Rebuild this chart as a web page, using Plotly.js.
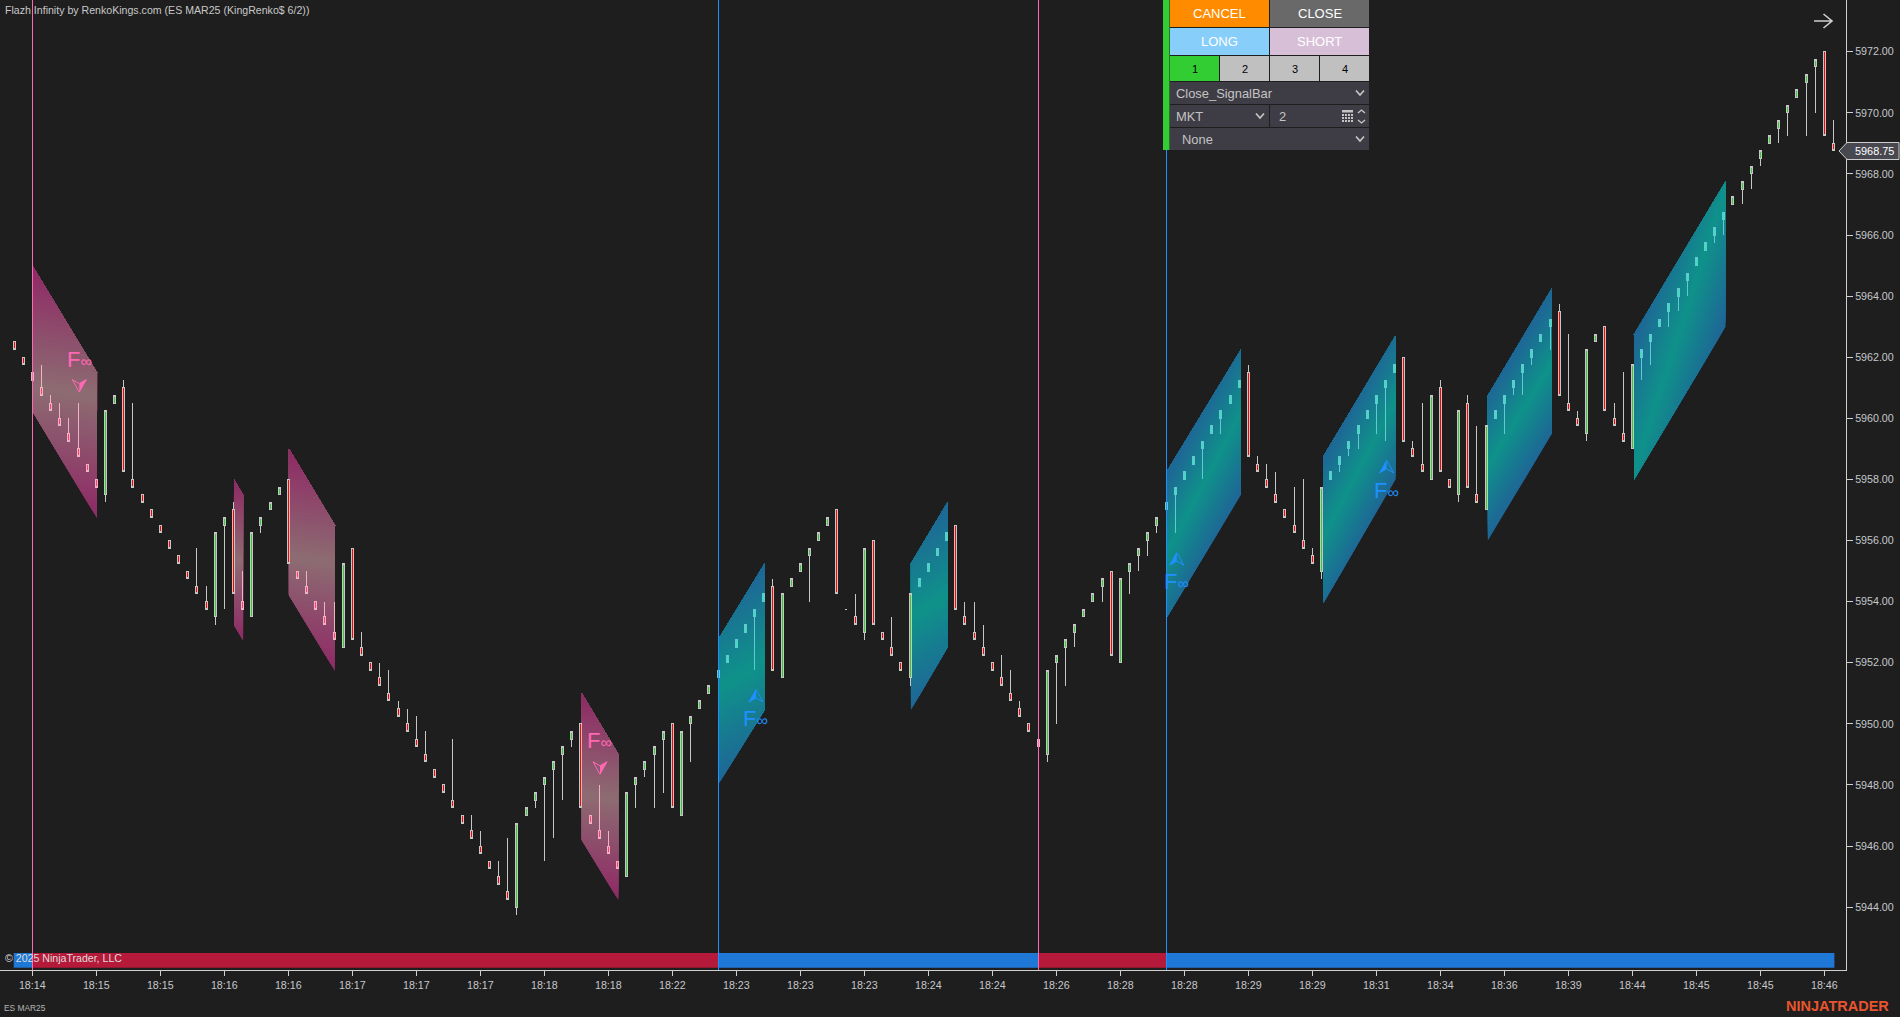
<!DOCTYPE html>
<html><head><meta charset="utf-8">
<script src="https://cdn.plot.ly/plotly-3.0.1.min.js"></script>
<style>html,body{margin:0;padding:0;background:#1e1e1e;overflow:hidden}#c{width:1900px;height:1017px}.boxlayer path{shape-rendering:crispEdges !important}</style>
</head><body><div id="c"></div>
<script>
const barOpen=[5962.5,5962,5961.5,5961,5960.5,5960,5959.5,5959,5958.5,5958,
5957.5,5960.5,5961,5958,5957.5,5957,5956.5,5956,5955.5,5955,
5954.5,5954,5953.5,5956.5,5957,5954,5953.5,5956.5,5957,5957.5,
5958,5955,5954.5,5954,5953.5,5953,5952.5,5955.75,5952.5,5952,
5951.5,5951,5950.5,5950,5949.5,5949,5948.5,5948,5947.5,5947,
5946.5,5946,5945.5,5945,5944.5,5944,5947,5947.5,5948,5948.5,
5949,5949.5,5950,5947,5946.5,5946,5945.5,5945,5948,5948.5,
5949,5949.5,5950,5947,5950,5950.5,5951,5951.5,5952,5952.5,
5953,5953.5,5954,5954.5,5951.5,5954.5,5955,5955.5,5956,5956.5,
5957,5953.75,5953.5,5953,5956,5953,5952.5,5952,5951.5,5954.5,
5955,5955.5,5956,5956.5,5953.5,5953,5952.5,5952,5951.5,5951,
5950.5,5950,5949.5,5949,5952,5952.5,5953,5953.5,5954,5954.5,
5955,5952,5955,5955.5,5956,5956.5,5957,5957.5,5958,5958.5,
5959,5959.5,5960,5960.5,5961,5961.5,5958.5,5958,5957.5,5957,
5956.5,5956,5955.5,5955,5958,5958.5,5959,5959.5,5960,5960.5,
5961,5961.5,5962,5959,5958.5,5958,5961,5958,5957.5,5960.5,
5957.5,5957,5960,5960.5,5961,5961.5,5962,5962.5,5963,5963.5,
5960.5,5960,5959.5,5962.5,5963,5960,5959.5,5959,5962,5962.5,
5963,5963.5,5964,5964.5,5965,5965.5,5966,5966.5,5967,5967.5,
5968,5968.5,5969,5969.5,5970,5970.5,5971,5971.5,5972,5969];
const barHigh=[5962.5,5962,5961.5,5961.75,5960.75,5960.5,5960,5960.5,5958.5,5958,
5960.25,5960.75,5961.25,5960.5,5957.5,5957,5956.5,5956,5955.5,5955,
5955.75,5954.5,5956.25,5956.75,5957.25,5955,5956.25,5956.75,5957.25,5957.75,
5958,5955,5955,5954,5954,5954,5955.25,5955.75,5953,5952,
5952,5951.75,5950.75,5950.5,5950.25,5949.75,5948.5,5948,5949.5,5947,
5947,5946.5,5945.5,5945.5,5946.25,5946.75,5947.25,5947.75,5948.25,5948.75,
5949.25,5949.75,5950,5947,5948,5946.5,5945.5,5947.75,5948.25,5948.75,
5949.25,5949.75,5950,5949.75,5950.25,5950.75,5951.25,5951.75,5952.25,5952.75,
5953.25,5953.75,5954.25,5954.75,5954.25,5954.75,5955.25,5955.75,5956.25,5956.75,
5957,5953.75,5954.25,5955.75,5956,5953,5953.5,5952,5954.25,5954.75,
5955.25,5955.75,5956.25,5956.5,5954,5954,5953.25,5952,5952.25,5951.75,
5950.75,5950,5949.5,5951.75,5952.25,5952.75,5953.25,5953.75,5954.25,5954.75,
5955,5954.75,5955.25,5955.75,5956.25,5956.75,5957.25,5957.75,5958.25,5958.75,
5959.25,5959.75,5960.25,5960.75,5961.25,5961.75,5958.75,5958.5,5958.25,5957,
5957.75,5958,5955.75,5957.75,5958.25,5958.75,5959.25,5959.75,5960.25,5960.75,
5961.25,5961.75,5962,5959.25,5960.5,5960.75,5961.25,5958,5960.25,5960.75,
5959.75,5959.75,5960.25,5960.75,5961.25,5961.75,5962.25,5962.75,5963.25,5963.75,
5962.75,5960.25,5962.25,5962.75,5963,5960.5,5961.5,5961.75,5962.25,5962.75,
5963.25,5963.75,5964.25,5964.75,5965.25,5965.75,5966.25,5966.75,5967.25,5967.75,
5968.25,5968.75,5969.25,5969.75,5970.25,5970.75,5971.25,5971.75,5972,5969.75];
const barLow=[5962.25,5961.75,5961.25,5960.75,5960.25,5959.75,5959.25,5958.75,5958.25,5957.75,
5957.25,5960.5,5958.25,5957.75,5957.25,5956.75,5956.25,5955.75,5955.25,5954.75,
5954.25,5953.75,5953.25,5953.75,5954.25,5953.75,5953.5,5956.25,5957,5957.5,
5955.25,5954.75,5954.25,5953.75,5953.25,5952.75,5952.5,5952.75,5952.25,5951.75,
5951.25,5950.75,5950.25,5949.75,5949.25,5948.75,5948.25,5947.75,5947.25,5946.75,
5946.25,5945.75,5945.25,5944.75,5944.25,5943.75,5947,5947.25,5945.5,5946.25,
5947.5,5949.25,5947.25,5946.75,5946.25,5945.75,5945.25,5945,5947.25,5948.25,
5947.25,5947.75,5947.25,5947,5948.75,5950.5,5951,5951.5,5952,5952.5,
5953,5951.75,5954,5951.75,5951.5,5954.5,5955,5954,5956,5956.5,
5954.25,5953.75,5953.25,5952.75,5953.25,5952.75,5952.25,5951.75,5951.25,5954.5,
5955,5955.5,5956,5953.75,5953.25,5952.75,5952.25,5951.75,5951.25,5950.75,
5950.25,5949.75,5949.25,5948.75,5950,5951.25,5952.5,5953.5,5954,5954,
5952.25,5952,5954.25,5955,5955.5,5956.25,5957,5956.25,5958,5958.5,
5958,5959.5,5959.5,5960.5,5961,5958.75,5958.25,5957.75,5957.25,5956.75,
5956.25,5955.75,5955.25,5954.75,5958,5958.25,5958.75,5959,5960,5959.5,
5959.25,5961.5,5959.25,5958.75,5958.25,5958,5958.25,5957.75,5957.25,5957.75,
5957.25,5957,5960,5959.5,5960.75,5960.75,5961.75,5962.5,5962.25,5960.75,
5960.25,5959.75,5959.25,5962.5,5960.25,5959.75,5959.25,5959,5961.25,5961.75,
5963,5963,5963.5,5964,5965,5965.5,5965.75,5966,5967,5967,
5967.5,5968.25,5969,5969,5969.25,5970.5,5969.25,5970,5969.25,5968.75];
const barClose=[5962.25,5961.75,5961.25,5960.75,5960.25,5959.75,5959.25,5958.75,5958.25,5957.75,
5960.25,5960.75,5958.25,5957.75,5957.25,5956.75,5956.25,5955.75,5955.25,5954.75,
5954.25,5953.75,5956.25,5956.75,5954.25,5953.75,5956.25,5956.75,5957.25,5957.75,
5955.25,5954.75,5954.25,5953.75,5953.25,5952.75,5955.25,5952.75,5952.25,5951.75,
5951.25,5950.75,5950.25,5949.75,5949.25,5948.75,5948.25,5947.75,5947.25,5946.75,
5946.25,5945.75,5945.25,5944.75,5944.25,5946.75,5947.25,5947.75,5948.25,5948.75,
5949.25,5949.75,5947.25,5946.75,5946.25,5945.75,5945.25,5947.75,5948.25,5948.75,
5949.25,5949.75,5947.25,5949.75,5950.25,5950.75,5951.25,5951.75,5952.25,5952.75,
5953.25,5953.75,5954.25,5951.75,5954.25,5954.75,5955.25,5955.75,5956.25,5956.75,
5954.25,5953.75,5953.25,5955.75,5953.25,5952.75,5952.25,5951.75,5954.25,5954.75,
5955.25,5955.75,5956.25,5953.75,5953.25,5952.75,5952.25,5951.75,5951.25,5950.75,
5950.25,5949.75,5949.25,5951.75,5952.25,5952.75,5953.25,5953.75,5954.25,5954.75,
5952.25,5954.75,5955.25,5955.75,5956.25,5956.75,5957.25,5957.75,5958.25,5958.75,
5959.25,5959.75,5960.25,5960.75,5961.25,5958.75,5958.25,5957.75,5957.25,5956.75,
5956.25,5955.75,5955.25,5957.75,5958.25,5958.75,5959.25,5959.75,5960.25,5960.75,
5961.25,5961.75,5959.25,5958.75,5958.25,5960.75,5958.25,5957.75,5960.25,5957.75,
5957.25,5959.75,5960.25,5960.75,5961.25,5961.75,5962.25,5962.75,5963.25,5960.75,
5960.25,5959.75,5962.25,5962.75,5960.25,5959.75,5959.25,5961.75,5962.25,5962.75,
5963.25,5963.75,5964.25,5964.75,5965.25,5965.75,5966.25,5966.75,5967.25,5967.75,
5968.25,5968.75,5969.25,5969.75,5970.25,5970.75,5971.25,5971.75,5969.25,5968.75];

const xTickLabels=['18:14','18:15','18:15','18:16','18:16','18:17','18:17','18:17','18:18','18:18','18:22','18:23','18:23','18:23','18:24','18:24','18:26','18:28','18:28','18:29','18:29','18:31','18:34','18:36','18:39','18:44','18:45','18:45','18:46'];
const yTicks=[5972,5970,5968,5966,5964,5962,5960,5958,5956,5954,5952,5950,5948,5946,5944];

// slanted signal zones: bar index span and prices of the four corners
const zoneKind =['pink','pink','pink','pink','teal','teal','teal','teal','teal','teal'];
const zoneStart=[2,24.06,30.07,62.1,77,98.1,126.07,143.2,161.2,177.2];
const zoneEnd  =[9.08,25.05,35.1,66.1,82.1,102.1,134.2,151.1,168.2,187.2];
const zoneTopL =[5965,5958,5959,5951,5952.75,5955.25,5958.25,5958.75,5960.75,5962.75];
const zoneBotL =[5960.24,5953.23,5954.22,5946.2,5948,5950.45,5953.47,5953.95,5956,5958];
const zoneTopR =[5961.5,5957.5,5956.5,5949,5955.25,5957.25,5962.25,5962.7,5964.25,5967.75];
const zoneBotR =[5956.73,5952.72,5951.73,5944.23,5950.45,5952.5,5957.5,5958,5959.5,5963];
const zoneAngle=[-8,-8,-8,-8,30,30,62,62,58,72];

const signalBars=[2,77,112,126];
const signalKinds=['pink','blue','pink','blue'];
const trendStart=[-0.03,2,77,112,126];
const trendEnd=[2,77,112,126,199.1];
const trendKinds=['blue','red','blue','red','blue'];

const signalKindAt=['pink','pink','blue','blue','blue'];
const arrowBar=[7.14,64.09,81.15,127.17,150.13];
const arrowPrice=[5961.07,5948.56,5950.91,5955.39,5958.41];
const labelPrice=[5961.91,5949.44,5950.16,5954.67,5957.65];

const lastPrice=5968.75;

const barIndex=barOpen.map((_,i)=>i);
const W=1846,H=970,pxI=9.143,pxP=30.55;
const xMin=2-32.3/pxI, xMax=xMin+W/pxI, yMax=5972+51.7/pxP, yMin=yMax-H/pxP;
const col={pink:'#ff69b4',blue:'#1e90ff'};

// group bars by the tint they take from the overlay above them
function groupOf(i){
  const s=signalBars.indexOf(i);
  if(s>=0) return signalKinds[s]==='pink'?'pink':'teal';
  for(let z=0;z<zoneStart.length;z++) if(i>=zoneStart[z]+0.5&&i<=zoneEnd[z]+0.3) return zoneKind[z];
  return 'plain';
}
function candles(g,upFill,downFill,line){
  const ids=barIndex.filter(i=>groupOf(i)===g);
  const pick=a=>ids.map(i=>a[i]);
  return {type:'candlestick',x:ids,open:pick(barOpen),high:pick(barHigh),low:pick(barLow),close:pick(barClose),
    whiskerwidth:0,hoverinfo:'none',showlegend:false,
    increasing:{fillcolor:upFill,line:{color:line,width:1}},
    decreasing:{fillcolor:downFill,line:{color:line,width:1}}};
}
const traces=[candles('plain','#32cd32','#ff0000','#c6c6c6'),
 candles('teal','#32e8b0','#ff4040','#62c8d2'),
 candles('pink','#32cd32','#ff3f6e','#eeb4c4')];

// gradient overlays, painted far to near so no seams appear between colour steps
function mix(a,b,t){return 'rgb('+a.map((v,k)=>Math.round(v+(b[k]-v)*t)).join(',')+')';}
const edge={pink:[142,46,102],teal:[30,104,150]}, mid={pink:[141,108,114],teal:[15,146,138]};
function clip(poly,f){
  const out=[];
  for(let k=0;k<poly.length;k++){
    const a=poly[k],b=poly[(k+1)%poly.length],fa=f(a),fb=f(b);
    if(fa>=0) out.push(a);
    if((fa>=0)!==(fb>=0)){const t=fa/(fa-fb);out.push([a[0]+(b[0]-a[0])*t,a[1]+(b[1]-a[1])*t]);}
  }
  return out;
}
const shapes=[];
zoneKind.forEach((kind,z)=>{
  const poly=[[zoneStart[z],zoneTopL[z]],[zoneEnd[z],zoneTopR[z]],[zoneEnd[z],zoneBotR[z]],[zoneStart[z],zoneBotL[z]]];
  const cx=(zoneStart[z]+zoneEnd[z])/2, cy=(zoneTopL[z]+zoneBotL[z]+zoneTopR[z]+zoneBotR[z])/4;
  const th=zoneAngle[z]*Math.PI/180;
  const s=p=>-Math.sin(th)*(p[0]-cx)*pxI+Math.cos(th)*(p[1]-cy)*pxP;
  const smax=Math.max(...poly.map(p=>Math.abs(s(p))));
  const N=60;
  for(let k=0;k<N;k++){
    const lo=-smax+2*smax*k/N, c=lo+smax/N;
    const part=k===0?poly:clip(poly,p=>s(p)-lo);
    if(part.length<3) continue;
    const t=1-Math.min(1,Math.abs(c)/(smax*0.92));
    shapes.push({type:'path',xref:'x',yref:'y',layer:'below',line:{width:0},fillcolor:mix(edge[kind],mid[kind],t),
      path:'M'+part.map(p=>p[0]+','+p[1]).join('L')+'Z'});
  }
});
// signal lines, placed on whole pixels
const snapX=b=>xMin+(Math.floor((b-xMin)*pxI)+0.5)/pxI;
signalBars.forEach((b,k)=>shapes.push({type:'line',xref:'x',yref:'paper',x0:snapX(b),x1:snapX(b),y0:0,y1:1,layer:'above',line:{color:col[signalKinds[k]],width:1}}));
// trend strip
const px=x=>x/W, py=y=>1-y/H;
trendStart.forEach((a,k)=>shapes.push({type:'rect',xref:'x',yref:'paper',x0:a,x1:trendEnd[k],y0:py(967.7),y1:py(953),layer:'below',line:{width:0},fillcolor:trendKinds[k]==='red'?'#b51a3a':'#1f78d6'}));
// signal arrows
arrowBar.forEach((b,k)=>{
  const c=col[signalKindAt[k]], up=signalKindAt[k]==='blue', d=up?1:-1, sideFill=up?-1:1;
  const common={type:'path',xref:'x',yref:'y',xsizemode:'pixel',ysizemode:'pixel',xanchor:b,yanchor:arrowPrice[k],layer:'above'};
  shapes.push(Object.assign({},common,{line:{color:c,width:1},path:`M0,${6.5*d}L-7,${-6*d}L0,${-2*d}L7,${-6*d}Z`}));
  shapes.push(Object.assign({},common,{line:{width:0},fillcolor:c,path:`M0,${6.5*d}L${7*sideFill},${-6*d}L0,${-2*d}Z`}));
});
// last price tag
shapes.push({type:'path',xref:'paper',yref:'y',xsizemode:'pixel',ysizemode:'pixel',xanchor:1,yanchor:lastPrice,layer:'above',
  fillcolor:'#484850',line:{color:'#cfcfcf',width:1},path:'M-7,0L1,8.5L53,8.5L53,-8.5L1,-8.5Z'});
// exit arrow, top right
shapes.push({type:'path',xref:'paper',yref:'paper',layer:'above',line:{color:'#d0d0d0',width:1.6},
  path:`M${px(1814)},${py(21)}L${px(1832)},${py(21)}M${px(1823.5)},${py(14)}L${px(1832)},${py(21)}L${px(1823.5)},${py(28)}`});

const annotations=[];
function label(text,x,y,size,color,anchor,extra){
  annotations.push(Object.assign({text,x:px(x),y:py(y),xref:'paper',yref:'paper',showarrow:false,xanchor:anchor||'left',yanchor:'middle',
    font:{family:'"Liberation Sans",Arial,sans-serif',size,color},borderpad:0,borderwidth:0},extra||{}));
}
label('Flazh Infinity by RenkoKings.com (ES MAR25 (KingRenko$ 6/2))',5,10,10.6,'#c8c8c8');
label('© 2025 NinjaTrader, LLC',5,957.5,10.6,'#dcdcdc');
label('ES MAR25',4,1007.5,8.4,'#b4b4b4');
label('<b>NINJATRADER</b>',1786,1006,14.5,'#e8542e');
label('5968.75',1855,150.8,10.9,'#ffffff');
// signal labels
arrowBar.forEach((b,k)=>annotations.push({text:'F<span style="font-size:16px">∞</span>',x:b,y:labelPrice[k],xref:'x',yref:'y',showarrow:false,
  xanchor:'center',yanchor:'middle',font:{family:'"Liberation Sans",Arial,sans-serif',size:22,color:col[signalKindAt[k]]}}));

// order panel
function box(x0,y0,x1,y1,fill){shapes.push({type:'rect',xref:'paper',yref:'paper',x0:px(x0),x1:px(x1),y0:py(y1),y1:py(y0),layer:'above',fillcolor:fill,line:{width:0}});}
function stroke(d,color,w){shapes.push({type:'path',xref:'paper',yref:'paper',layer:'above',line:{color,width:w||1.4},
  path:d.map((p,i)=>(i?'L':'M')+px(p[0])+','+py(p[1])).join('')});}
box(1163,0,1169.5,150,'#32cd32');
box(1170,0,1369,150,'#1e1e1e');
const btn=(x0,y0,x1,y1,f,t,tc,s)=>{box(x0,y0,x1,y1,f);label(t,(x0+x1)/2,(y0+y1)/2+0.3,s||13,tc,'center');};
btn(1170,0,1269,27,'#ff8c00','CANCEL','#ffffff');
btn(1270,0,1369,27,'#696969','CLOSE','#ffffff');
btn(1170,28,1269,55,'#87cefa','LONG','#ffffff');
btn(1270,28,1369,55,'#d8bfd8','SHORT','#ffffff');
btn(1170,56,1219,81,'#32cd32','1','#000000',11);
btn(1220,56,1269,81,'#c0c0c0','2','#000000',11);
btn(1270,56,1319,81,'#c0c0c0','3','#000000',11);
btn(1320,56,1369,81,'#c0c0c0','4','#000000',11);
box(1170,82,1369,104,'#3e3d45');box(1170,105,1269,127,'#3e3d45');box(1270,105,1369,127,'#3e3d45');box(1170,128,1369,150,'#3e3d45');
label('Close_SignalBar',1176,93.3,12.9,'#c4c4c4');
label('MKT',1176,116.3,12.9,'#c4c4c4');
label('2',1279,116.3,13,'#c4c4c4');
label('None',1182,139.5,12.9,'#c4c4c4');
const chev=(x,y)=>stroke([[x-4,y-2.5],[x,y+2],[x+4,y-2.5]],'#c8c8c8',1.6);
chev(1360,93);chev(1260,116);chev(1360,139);
stroke([[1358,113],[1361.5,110],[1365,113]],'#c8c8c8',1.3);
stroke([[1358,120],[1361.5,123],[1365,120]],'#c8c8c8',1.3);
box(1342,110,1353,112.5,'#c4c4c4');
[0,1,2,3].forEach(c=>[0,1,2].forEach(r=>box(1342+c*3,114+r*3,1344+c*3,116+r*3,'#c4c4c4')));

const layout={width:1900,height:1017,paper_bgcolor:'#1e1e1e',plot_bgcolor:'#1e1e1e',showlegend:false,dragmode:false,
  margin:{l:0,r:54,t:0,b:47,pad:0},boxgap:0.78,boxgroupgap:0,
  font:{family:'"Liberation Sans",Arial,sans-serif',color:'#c8c8c8',size:11},
  xaxis:{range:[xMin,xMax],type:'linear',fixedrange:true,showgrid:false,zeroline:false,rangeslider:{visible:false},
    tickmode:'array',tickvals:xTickLabels.map((_,k)=>2+7*k),ticktext:xTickLabels,ticks:'outside',ticklen:5,tickwidth:1,tickcolor:'#cfcfcf',
    showline:true,linecolor:'#cfcfcf',linewidth:1,tickfont:{size:10.7,color:'#c4c8cc'}},
  yaxis:{range:[yMin,yMax],type:'linear',fixedrange:true,side:'right',showgrid:false,zeroline:false,
    tickmode:'array',tickvals:yTicks,ticktext:yTicks.map(v=>v.toFixed(2)),ticks:'outside',ticklen:6,tickwidth:1,tickcolor:'#cfcfcf',
    showline:true,linecolor:'#cfcfcf',linewidth:1,tickfont:{size:10.7,color:'#c4c8cc'}},
  shapes,annotations};
Plotly.newPlot('c',traces,layout,{displayModeBar:false,staticPlot:true});
</script></body></html>
